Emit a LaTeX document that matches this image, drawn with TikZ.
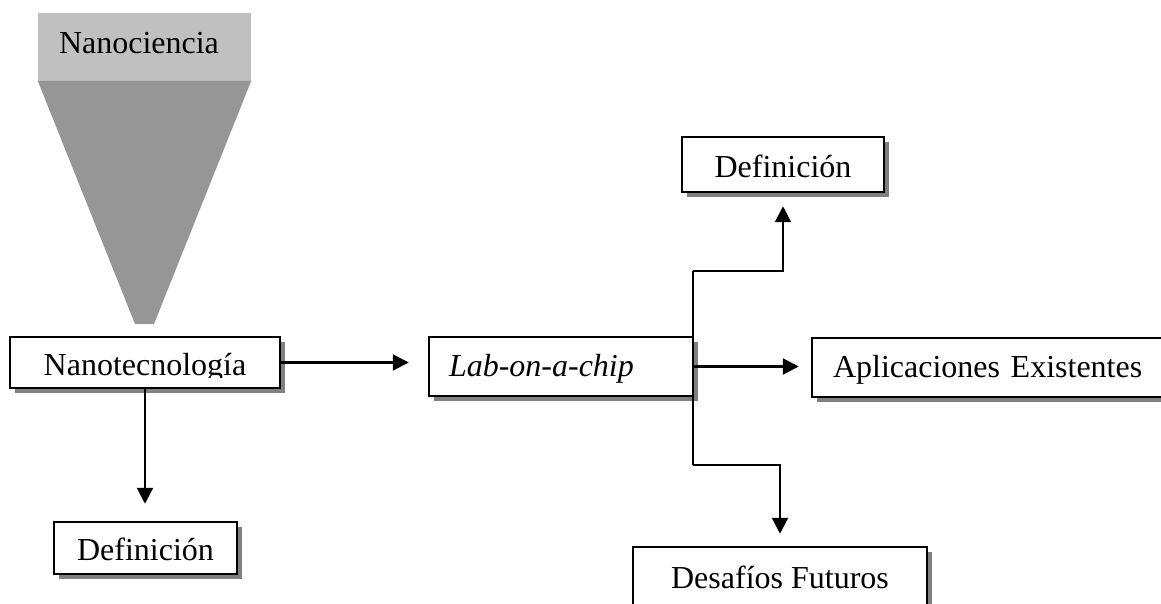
\documentclass[tikz,border=0pt]{standalone}
\usepackage{fontspec}
\setmainfont{Liberation Serif}
\usepackage{xcolor}
\usepackage{tikz}
\usetikzlibrary{positioning,calc,arrows.meta,shadows}
\definecolor{claro}{HTML}{C0C0C0}
\definecolor{oscuro}{HTML}{969696}
\definecolor{sombra}{HTML}{808080}

\begin{document}
\begin{tikzpicture}[x=0.5pt,y=-0.5pt,
        letra/.style={font=\fontsize{16}{19}\selectfont},
        caja/.style={letra, draw, line width=1.25pt, fill=white, text height=13pt,
            drop shadow={shadow xshift=2.5pt, shadow yshift=-2.5pt, fill=sombra, opacity=1}},
        flecha/.style={line width=1.1pt, -{Triangle[length=8pt,width=8pt]}}]
        \clip (0,0) rectangle (1161,604);
        \node[letra, fill=claro, minimum width=106.5pt, minimum height=33.5pt, text depth=4pt,
            text width=85.5pt, inner xsep=10.5pt, align=left] (ciencia) at (144.5,46.5) {Nanociencia};
        \fill[oscuro] (ciencia.south west) -- (ciencia.south east) -- (154,324) -- (135,324) -- cycle;

        \node[caja, minimum width=135pt, minimum height=25.5pt, text depth=0pt] (tecno) at (145,362.5) {Nanotecnología};
        \fill[white] ($(tecno.south west)+(2.5,-11)$) rectangle ($(tecno.south east)+(-2.5,-1.8)$);
        \node[caja, minimum width=91.5pt, minimum height=26pt] (def1) at (145.5,548) {Definición};
        \node[caja, minimum width=132pt, minimum height=29.5pt, text width=112pt, inner xsep=10pt,
            align=left] (lab) at (561,366.5) {\textit{Lab-on-a-chip}};
        \node[caja, minimum width=101pt, minimum height=27.5pt] (def2) at (783,164.5) {Definición};
        \node[caja, minimum width=179pt, minimum height=29.5pt, text width=158pt, inner xsep=10.5pt,
            align=left] (apli) at (991,367.5) {Aplicaciones Existentes};
        \node[caja, minimum width=147pt, minimum height=29pt] (futuro) at (780,576) {Desafíos Futuros};

        \coordinate (arriba) at (693,271);
        \coordinate (abajo) at (693,465);
        \draw[flecha, shorten >=9.5pt] (tecno.east) -- (tecno.east -| lab.west);
        \draw[flecha, shorten >=8.5pt] (tecno.south) -- (tecno.south |- def1.north);
        \draw[line width=1.1pt] (arriba) -- (abajo);
        \draw[flecha, shorten >=6.5pt] (arriba) -| (def2.south);
        \draw[flecha, shorten >=6pt] (lab.east) -- (lab.east -| apli.west);
        \draw[flecha, shorten >=6pt] (abajo) -| (futuro.north);
    \end{tikzpicture}
\end{document}
